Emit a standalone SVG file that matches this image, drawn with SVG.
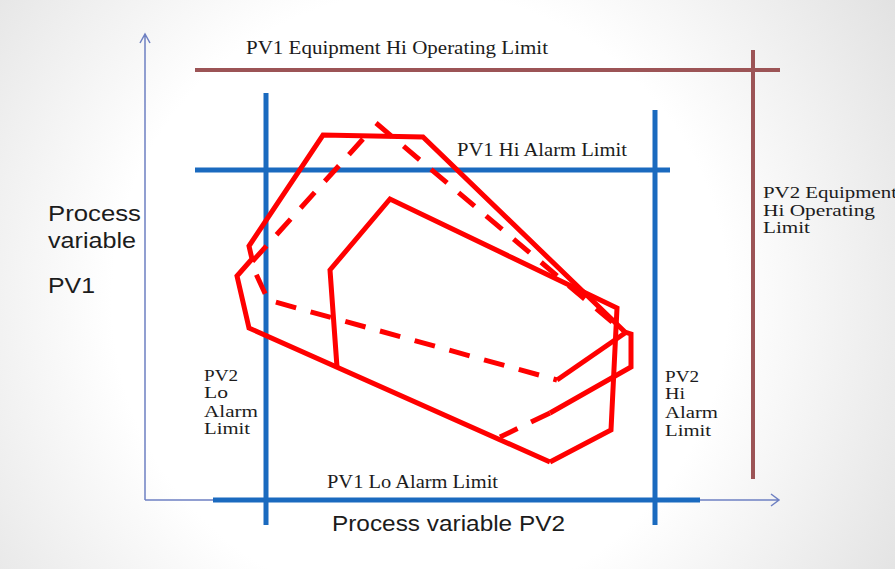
<svg xmlns="http://www.w3.org/2000/svg" width="895" height="569" viewBox="0 0 895 569">
<defs>
<radialGradient id="bg" cx="420" cy="300" r="560" gradientUnits="userSpaceOnUse">
<stop offset="0" stop-color="#ffffff"/>
<stop offset="0.55" stop-color="#ffffff"/>
<stop offset="1" stop-color="#e2e2e2"/>
</radialGradient>
<style>
.axis{fill:none;stroke:#6e80c2;stroke-width:1.5}
.blue{fill:none;stroke:#1a6abf;stroke-width:5}
.brown{fill:none;stroke:#9c5456;stroke-width:4}
.red{fill:none;stroke:#ff0000;stroke-width:5;stroke-linejoin:miter}
.dash{stroke-dasharray:21 15}
.lbl{font-family:"Liberation Serif",serif;font-size:18px;fill:#1c1c1c}
.stk{font-family:"Liberation Serif",serif;font-size:16px;fill:#1c1c1c}
.ax{font-family:"Liberation Sans",Arial,sans-serif;font-size:22px;fill:#1c1c1c}
</style>
</defs>
<rect width="895" height="569" fill="url(#bg)"/>

<g id="connectors">
<g id="axes">
<path class="axis" d="M145,500 L145,34 M140,43 L145,34 L150,43"/>
<path class="axis" d="M145,500 L779,500 M771,494 L779,500 L771,506"/>
</g>
</g>

<g id="pv1-equip-hi">
<path class="brown" d="M195,70 L780,70"/>
<text class="lbl" x="246" y="54" textLength="302" lengthAdjust="spacingAndGlyphs">PV1 Equipment Hi Operating Limit</text>
</g>

<g id="pv2-equip-hi">
<path class="brown" d="M753,50 L753,479"/>
<text class="stk" x="763" y="198" textLength="134" lengthAdjust="spacingAndGlyphs">PV2 Equipment</text>
<text class="stk" x="763" y="216" textLength="112" lengthAdjust="spacingAndGlyphs">Hi Operating</text>
<text class="stk" x="763" y="233" textLength="47" lengthAdjust="spacingAndGlyphs">Limit</text>
</g>

<g id="pv1-hi-alarm">
<path class="blue" d="M195,170 L670,170"/>
<text class="lbl" x="457" y="156" textLength="170" lengthAdjust="spacingAndGlyphs">PV1 Hi Alarm Limit</text>
</g>

<g id="pv1-lo-alarm">
<path class="blue" d="M213,500 L700,500"/>
<text class="lbl" x="327" y="488" textLength="171" lengthAdjust="spacingAndGlyphs">PV1 Lo Alarm Limit</text>
</g>

<g id="pv2-lo-alarm">
<path class="blue" d="M266,93 L266,525"/>
<text class="stk" x="204" y="381" textLength="34" lengthAdjust="spacingAndGlyphs">PV2</text>
<text class="stk" x="204" y="398" textLength="24" lengthAdjust="spacingAndGlyphs">Lo</text>
<text class="stk" x="204" y="417" textLength="54" lengthAdjust="spacingAndGlyphs">Alarm</text>
<text class="stk" x="204" y="434" textLength="46" lengthAdjust="spacingAndGlyphs">Limit</text>
</g>

<g id="pv2-hi-alarm">
<path class="blue" d="M655,110 L655,525"/>
<text class="stk" x="665" y="382" textLength="34" lengthAdjust="spacingAndGlyphs">PV2</text>
<text class="stk" x="665" y="399" textLength="20" lengthAdjust="spacingAndGlyphs">Hi</text>
<text class="stk" x="665" y="418" textLength="53" lengthAdjust="spacingAndGlyphs">Alarm</text>
<text class="stk" x="665" y="436" textLength="46" lengthAdjust="spacingAndGlyphs">Limit</text>
</g>

<g id="envelope-outer">
<path class="red" d="M550,413 L631,367 L631,334 L625,332 L423,137 L323,135 L249,246 L252,259 L237,276 L249,328 L550,462"/>
<path class="red dash" d="M550,413 L500,437"/>
</g>

<g id="envelope-inner">
<path class="red" d="M337,367 L330,270 L390,199 L617,308 L611,430 L550,462"/>
</g>

<g id="envelope-dashed">
<path class="red dash" d="M376,123 L625,333"/>
<path class="red dash" d="M363,139 L251,263 L268,300 L557,380"/>
<path class="red" d="M557,380 L625,333"/>
</g>

<g id="axis-labels">
<text class="ax" x="48" y="221" textLength="93" lengthAdjust="spacingAndGlyphs">Process</text>
<text class="ax" x="48" y="248" textLength="88" lengthAdjust="spacingAndGlyphs">variable</text>
<text class="ax" x="48" y="293" textLength="47" lengthAdjust="spacingAndGlyphs">PV1</text>
<text class="ax" x="332" y="531" textLength="233" lengthAdjust="spacingAndGlyphs">Process variable PV2</text>
</g>
</svg>
